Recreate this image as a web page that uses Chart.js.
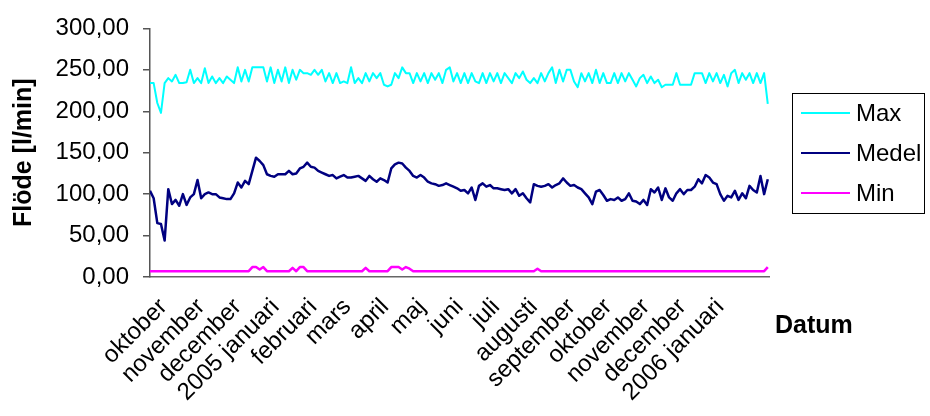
<!DOCTYPE html>
<html><head><meta charset="utf-8">
<script src="https://cdn.jsdelivr.net/npm/chart.js@4.4.1/dist/chart.umd.min.js"></script>
<style>html,body{margin:0;padding:0;background:#fff;}#wrap{width:930px;height:416px;}</style>
</head><body><div id="wrap"><canvas id="c" width="930" height="416"></canvas></div>
<script>
// Day 0 = 2004-09-20; one sample every 3 days
const SAMPLE_DAYS = 3;
const AXIS_MAX_DAY = 508;
const monthDays = [11, 42, 72, 103, 134, 162, 193, 223, 254, 284, 315, 346, 376, 407, 437, 468];
const monthLabels = ['oktober','november','december','2005 januari','februari','mars','april','maj','juni','juli','augusti','september','oktober','november','december','2006 januari'];
const yTicks = [0, 50, 100, 150, 200, 250, 300];
const seriesNames = ['Max', 'Medel', 'Min'];

const maxValues = [
234,234,210,198,234,240,236,244,234,234,
235,250,234,240,234,252,234,242,234,240,
234,242,238,234,253,236,250,236,253,253,
253,253,236,253,234,250,236,253,234,250,
238,250,246,246,244,250,244,250,236,246,
234,246,234,236,234,253,234,240,234,246,
236,246,240,246,232,230,232,246,240,253,
246,246,234,246,236,246,234,246,238,246,
234,250,253,236,246,234,246,234,246,236,
234,246,234,246,236,246,234,246,240,234,
246,240,248,238,234,240,234,246,236,246,
253,234,250,236,250,250,236,229,246,236,
246,234,250,234,246,234,234,246,234,246,
236,246,238,230,240,244,234,242,234,238,
229,232,232,232,246,232,232,232,232,246,
246,246,234,246,236,246,234,244,230,246,
250,234,246,238,246,234,246,234,246,209];

const medelValues = [
104,95,65,64,44,106,88,93,86,100,
87,96,100,117,95,100,102,100,100,96,
95,94,94,101,114,108,116,112,128,144,
140,135,124,122,121,124,124,124,128,124,
125,131,133,138,133,132,128,126,124,122,
123,119,121,123,120,120,121,122,119,116,
122,118,115,119,117,114,131,136,138,137,
132,128,122,120,123,120,115,113,112,110,
111,113,111,109,107,104,105,101,108,93,
110,113,109,111,107,107,106,105,106,101,
106,98,101,95,90,112,110,109,110,112,
108,111,113,119,114,110,111,108,106,101,
96,88,103,105,99,92,94,93,96,92,
94,101,92,91,88,93,87,106,102,108,
93,107,96,92,101,106,100,105,105,109,
118,113,123,120,114,112,100,92,98,96,
104,93,101,95,110,105,102,122,100,118];

const minValues = [
7,7,7,7,7,7,7,7,7,7,
7,7,7,7,7,7,7,7,7,7,
7,7,7,7,7,7,7,7,12,12,
9,12,7,7,7,7,7,7,7,11,
7,12,12,7,7,7,7,7,7,7,
7,7,7,7,7,7,7,7,7,11,
7,7,7,7,7,7,12,12,12,9,
12,10,7,7,7,7,7,7,7,7,
7,7,7,7,7,7,7,7,7,7,
7,7,7,7,7,7,7,7,7,7,
7,7,7,7,7,7,10,7,7,7,
7,7,7,7,7,7,7,7,7,7,
7,7,7,7,7,7,7,7,7,7,
7,7,7,7,7,7,7,7,7,7,
7,7,7,7,7,7,7,7,7,7,
7,7,7,7,7,7,7,7,7,7,
7,7,7,7,7,7,7,7,7,12];

const FONT = '"Liberation Sans", Arial, sans-serif';
const toPoints = vals => vals.map((v, i) => ({x: i * SAMPLE_DAYS, y: v}));
const fmt = v => Number(v).toFixed(2).replace('.', ',');

const extras = {
  id: 'extras',
  afterDraw(chart) {
    const ctx = chart.ctx;
    ctx.save();
    // legend box
    ctx.strokeStyle = '#000'; ctx.lineWidth = 1;
    ctx.strokeRect(792.5, 93.5, 132, 120);
    ctx.font = '24px ' + FONT; ctx.textBaseline = 'middle'; ctx.textAlign = 'left';
    chart.data.datasets.forEach((ds, i) => {
      const y = 113 + 40 * i;
      ctx.strokeStyle = ds.borderColor; ctx.lineWidth = 2;
      ctx.beginPath(); ctx.moveTo(801, y); ctx.lineTo(850, y); ctx.stroke();
      ctx.fillStyle = '#000'; ctx.fillText(ds.label, 856, y + 1);
    });
    ctx.font = 'bold 25px ' + FONT; ctx.textBaseline = 'middle';
    ctx.fillText('Datum', 775, 326);
    ctx.restore();
  }
};

new Chart(document.getElementById('c'), {
  type: 'line',
  data: {
    datasets: [
      {label: seriesNames[0], data: toPoints(maxValues), borderColor: '#00FFFF', borderWidth: 2},
      {label: seriesNames[1], data: toPoints(medelValues), borderColor: '#000080', borderWidth: 2.5},
      {label: seriesNames[2], data: toPoints(minValues), borderColor: '#FF00FF', borderWidth: 2.5}
    ]
  },
  options: {
    responsive: false, animation: false,
    layout: {padding: {left: 5, top: 25, right: 161, bottom: 0}},
    plugins: {legend: {display: false}, tooltip: {enabled: false}},
    elements: {point: {radius: 0}, line: {tension: 0, borderJoinStyle: 'round'}},
    scales: {
      x: {
        type: 'linear', min: 0, max: AXIS_MAX_DAY,
        afterBuildTicks: s => { s.ticks = monthDays.map(v => ({value: v})); },
        afterFit: s => { s.height = 139; },
        ticks: {autoSkip: false, minRotation: 45, maxRotation: 45, padding: 8, color: '#000',
          font: {family: FONT, size: 24}, callback: (v, i) => monthLabels[i]},
        grid: {display: false},
        border: {display: true, color: '#666', width: 1.5}
      },
      y: {
        min: 0, max: 300,
        afterBuildTicks: s => { s.ticks = yTicks.map(v => ({value: v})); },
        afterFit: s => { s.width = 145; },
        ticks: {padding: 14, color: '#000', font: {family: FONT, size: 24}, callback: v => fmt(v)},
        grid: {drawOnChartArea: false, drawTicks: true, tickLength: 7, color: '#555', lineWidth: 1.5},
        border: {display: true, color: '#555', width: 1.5},
        title: {display: true, text: 'Flöde [l/min]', color: '#000',
          font: {family: FONT, size: 25, weight: 'bold'}, padding: {top: 4, bottom: 4}}
      }
    }
  },
  plugins: [extras]
});
</script></body></html>
